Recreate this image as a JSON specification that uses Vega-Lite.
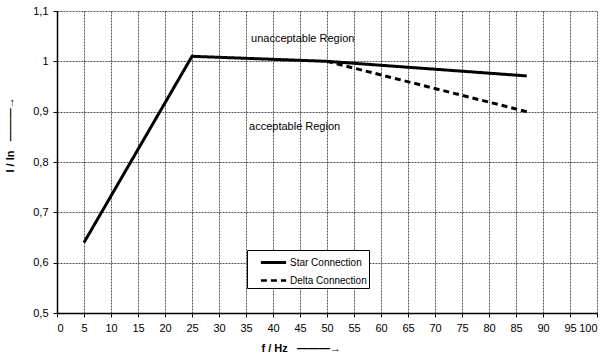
{
  "$schema": "https://vega.github.io/schema/vega-lite/v6.json",
  "width": 540,
  "height": 302,
  "padding": {"left": 57, "top": 11, "right": 10, "bottom": 43},
  "autosize": {"type": "none"},
  "background": "white",
  "config": {
    "font": "Liberation Sans",
    "view": {"stroke": null}
  },
  "datasets": {
    "lines": [
      {"f": 5, "v": 0.64, "series": "Star Connection"},
      {"f": 25, "v": 1.01, "series": "Star Connection"},
      {"f": 50, "v": 1.0, "series": "Star Connection"},
      {"f": 87, "v": 0.971, "series": "Star Connection"},
      {"f": 50, "v": 1.0, "series": "Delta Connection"},
      {"f": 87, "v": 0.9, "series": "Delta Connection"}
    ],
    "labels": [
      {"f": 45.5, "v": 1.044, "text": "unacceptable Region"},
      {"f": 44, "v": 0.869, "text": "acceptable Region"}
    ]
  },
  "encoding": {
    "x": {
      "field": "f", "type": "quantitative",
      "scale": {"domain": [0, 100], "nice": false},
      "axis": {
        "values": [0,5,10,15,20,25,30,35,40,45,50,55,60,65,70,75,80,85,90,95,100],
        "labelOverlap": false,
        "title": "f / Hz\u00a0\u00a0\u00a0———→",
        "titleFont": "Liberation Sans", "titleFontWeight": "bold", "titleFontSize": 11,
        "titleAnchor": "start", "titleAlign": "left", "titleBaseline": "middle",
        "titleX": 204, "titleY": 35,
        "labelFontSize": 11, "labelColor": "black", "labelPadding": 5,
        "domainColor": "black", "domainWidth": 1.5,
        "tickColor": "black", "tickSize": 4,
        "grid": true, "gridColor": "black", "gridDash": [2, 1], "gridWidth": 0.8, "gridOpacity": 0.85
      }
    },
    "y": {
      "field": "v", "type": "quantitative",
      "scale": {"domain": [0.5, 1.1], "nice": false, "zero": false},
      "axis": {
        "values": [0.5, 0.6, 0.7, 0.8, 0.9, 1.0, 1.1],
        "labelExpr": "replace(format(datum.value, '.1~f'), '.', ',')",
        "title": "I / In\u00a0\u00a0\u00a0———→",
        "titleFont": "Liberation Sans", "titleFontWeight": "bold", "titleFontSize": 11,
        "titleAngle": -90, "titleAlign": "left", "titleBaseline": "middle",
        "titleX": -47, "titleY": 161,
        "labelFontSize": 11, "labelColor": "black", "labelPadding": 5,
        "domainColor": "black", "domainWidth": 1.5,
        "tickColor": "black", "tickSize": 4,
        "grid": true, "gridColor": "black", "gridDash": [2, 1], "gridWidth": 0.8, "gridOpacity": 0.85
      }
    }
  },
  "layer": [
    {
      "data": {"name": "lines"},
      "mark": {"type": "line", "color": "black", "strokeWidth": 3},
      "encoding": {
        "detail": {"field": "series"},
        "strokeDash": {
          "field": "series", "type": "nominal",
          "scale": {"domain": ["Star Connection", "Delta Connection"], "range": [[1, 0], [6, 4]]},
          "legend": {
            "title": null, "orient": "none", "legendX": 190, "legendY": 239,
            "strokeColor": "black", "fillColor": "white", "padding": 2,
            "symbolType": "M-1.4,0H1.4", "symbolStrokeColor": "black", "symbolFillColor": "transparent",
            "symbolStrokeWidth": 2.5, "symbolSize": 324, "symbolOffset": 14,
            "labelFontSize": 10, "labelColor": "black", "rowPadding": 1, "labelOffset": 6
          }
        },
        "strokeWidth": {
          "field": "series", "type": "nominal",
          "scale": {"domain": ["Star Connection", "Delta Connection"], "range": [3, 2.5]},
          "legend": null
        }
      }
    },
    {
      "data": {"name": "labels"},
      "mark": {"type": "text", "fontSize": 11, "color": "black", "font": "Liberation Sans"},
      "encoding": {
        "text": {"field": "text"}
      }
    }
  ]
}
